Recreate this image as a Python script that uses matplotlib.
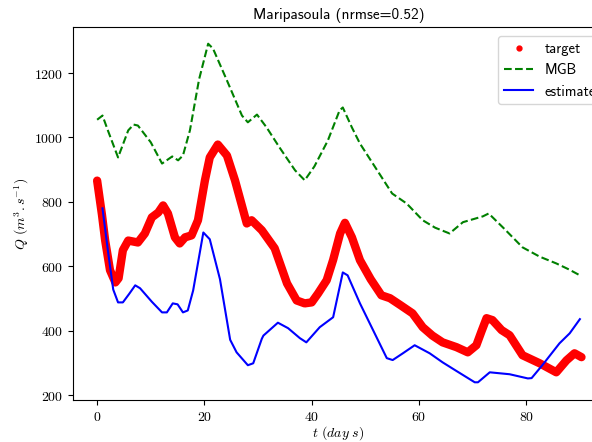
import matplotlib
matplotlib.use("Agg")
import matplotlib.pyplot as plt
from matplotlib.lines import Line2D
from matplotlib.ticker import FuncFormatter

plt.rcParams['mathtext.fontset'] = 'cm'

# observed discharge at the station (m3/s)
t_target = [0, 0.9, 1.5, 2.4, 3.4, 4.0, 4.8, 5.8, 7.6, 8.9, 10.2, 11.4, 12.3, 13.2,
            14.5, 15.4, 16.4, 17.6, 18.8, 20.1, 21.0, 22.5, 24.2, 25.7, 27.9,
            28.8, 30.7, 33.1, 35.4, 37.2, 38.7, 40.0, 41.2, 42.8, 44.0, 45.3,
            46.2, 47.5, 49.0, 51.0, 53.0, 54.6, 56.5, 58.8, 60.7, 62.5, 64.4,
            67.0, 69.1, 70.7, 71.7, 72.6, 73.7, 75.4, 76.9, 79.3, 82.5, 85.6,
            87.5, 89.0, 90.3]
q_target = [866, 760, 680, 588, 550, 563, 650, 680, 674, 702, 752, 767, 789, 764,
            690, 671, 690, 696, 743, 867, 938, 978, 944, 867, 733,
            743, 712, 656, 547, 494, 485, 488, 516, 557, 620, 702,
            735, 690, 619, 560, 510, 501, 480, 454, 411, 385, 364,
            349, 333, 355, 400, 439, 433, 402, 386, 324, 299, 271,
            308, 330, 318]

# MGB model simulation
t_mgb = [0, 1, 2, 3.9, 5.8, 6.8, 7.6, 10, 12.1, 14, 15.1, 16, 17.3, 19, 20.7,
         21.6, 24.2, 27, 28.1, 29.8, 31.6, 34, 36.9, 38.7, 40.5, 43, 45.2,
         45.8, 47.5, 49, 51.4, 55, 57.7, 60.7, 63, 65.7, 68.2, 71.9, 73,
         76, 79.3, 82.5, 85.6, 88, 90]
q_mgb = [1055, 1068, 1022, 938, 1022, 1040, 1037, 985, 919, 941, 929, 944, 1022,
         1180, 1291, 1276, 1177, 1068, 1047, 1071, 1031, 969, 898, 867, 910,
         990, 1084, 1093, 1031, 981, 919, 826, 795, 743, 720, 702, 737, 755,
         764, 715, 659, 630, 609, 590, 572]

# estimated discharge
t_est = [1, 2, 3, 3.9, 4.8, 6, 7.1, 8, 10.2, 12.1, 13, 14.1, 15, 16, 16.9, 17.9,
         19.8, 21, 22.9, 24.8, 26, 28.1, 29.1, 30.7, 31, 33.7, 35.6, 37.8,
         39, 41.5, 44, 45.8, 46.7, 49, 51.5, 54, 55.1, 57, 59.2, 62, 64.4,
         67, 70.4, 71, 73.2, 76.9, 80.3, 81, 83, 86.2, 88.1, 90]
q_est = [780, 650, 528, 488, 488, 515, 541, 532, 490, 457, 457, 485, 482, 457, 463, 525,
         705, 684, 560, 372, 333, 293, 299, 375, 385, 425, 408, 377,
         364, 411, 442, 581, 572, 485, 400, 315, 309, 330, 355, 330, 302,
         275, 240, 240, 271, 265, 252, 253, 293, 361, 392, 436]

fig = plt.figure(figsize=(5.92, 4.42), dpi=100)
# the axes run a little past the right edge of the figure
ax = fig.add_axes([0.1233, 0.095, 0.897, 0.844])

ax.plot(t_target, q_target, color='red', lw=6, solid_capstyle='round',
        solid_joinstyle='round')
ax.plot(t_mgb, q_mgb, color='green', ls='--', lw=1.5)
ax.plot(t_est, q_est, color='blue', lw=1.5)

ax.set_xlim(-4.5, 94.5)
ax.set_ylim(185, 1343)
ax.set_xticks([0, 20, 40, 60, 80])
ax.set_yticks([200, 400, 600, 800, 1000, 1200])
fmt = FuncFormatter(lambda v, p: r'$%d$' % v)
ax.xaxis.set_major_formatter(fmt)
ax.yaxis.set_major_formatter(fmt)
ax.tick_params(labelsize=10)

ax.set_xlabel(r'$t\ (day\ s)$', fontsize=10, labelpad=0)
ax.set_ylabel(r'$Q\ (m^3.s^{-1})$', fontsize=10, labelpad=2)
ax.set_title('Maripasoula (nrmse=0.52)', family='cmss10', fontsize=11)

handles = [
    Line2D([], [], color='red', marker='.', ls='', markersize=7),
    Line2D([], [], color='green', ls='--', lw=1.5),
    Line2D([], [], color='blue', lw=1.5),
]
ax.legend(handles, ['target', 'MGB', 'estimate'], loc='upper right',
          bbox_to_anchor=(1.01, 0.995),
          prop={'family': 'cmss10', 'size': 10.5})

fig.savefig('out.png', dpi=100)
